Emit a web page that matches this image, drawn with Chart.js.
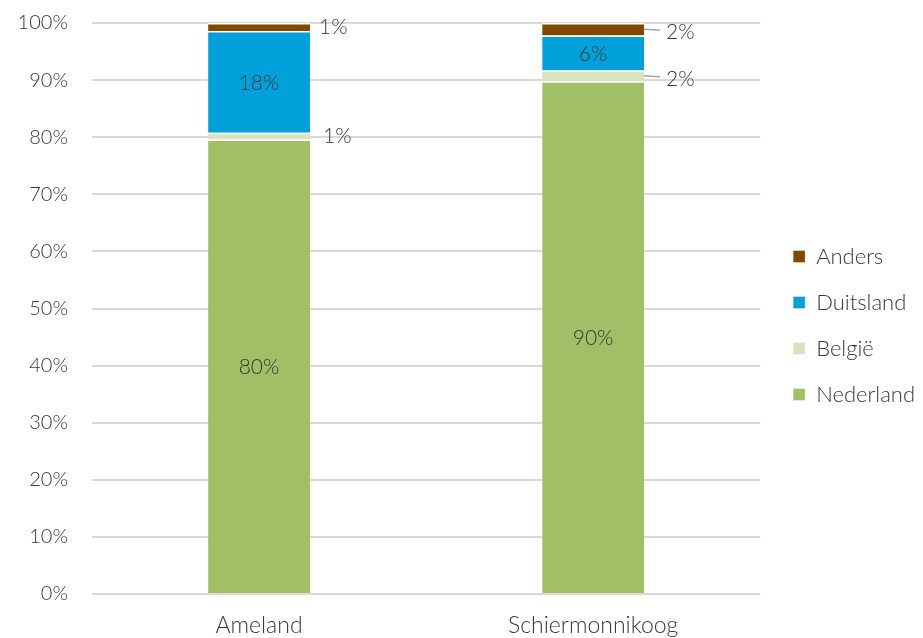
<!DOCTYPE html>
<html>
<head>
<meta charset="utf-8">
<script src="https://cdn.jsdelivr.net/npm/chart.js@4.4.1/dist/chart.umd.min.js"></script>
<style>
  html, body { margin: 0; padding: 0; background: #fff; }
  #wrap { width: 923px; height: 638px; position: relative; }
</style>
</head>
<body>
<div id="wrap"><canvas id="chart"></canvas></div>
<script>
// categories and series (percent of visitors)
const categories = ["Ameland", "Schiermonnikoog"];
const nederland = [79.6, 89.8];
const belgie = [1.2, 1.9];
const duitsland = [17.8, 6.1];
const anders = [1.4, 2.2];

const seriesNames = ["Nederland", "België", "Duitsland", "Anders"];
const seriesColors = ["#A0BF66", "#D8E4BE", "#00A1DB", "#7F4A00"];

const textColor = "#383838";
const fontFamily = "Lato, 'Open Sans', sans-serif";

// draws value labels: inside big segments, to the right of small ones
const valueLabels = {
    id: "valueLabels",
    afterLayout(chart) {
        // let the category labels use the bottom padding too (no clipping)
        chart.scales.x.bottom = chart.height;
    },
    afterDatasetsDraw(chart) {
        const ctx = chart.ctx;
        ctx.save();
        ctx.font = "300 21px " + fontFamily;
        ctx.fillStyle = textColor;
        ctx.textBaseline = "middle";
        chart.data.datasets.forEach((ds, di) => {
            const meta = chart.getDatasetMeta(di);
            meta.data.forEach((bar, i) => {
                const v = ds.data[i];
                const label = Math.round(v) + "%";
                const { x, y, base, width } = bar.getProps(["x", "y", "base", "width"], true);
                const cy = (y + base) / 2;
                if (v >= 5) {
                    ctx.textAlign = "center";
                    ctx.fillText(label, x, cy + 1);
                } else {
                    const right = x + width / 2;
                    ctx.textAlign = "left";
                    if (i === 1) {
                        // leader line for the second bar
                        ctx.strokeStyle = "#A6A6A6";
                        ctx.lineWidth = 1.5;
                        ctx.beginPath();
                        ctx.moveTo(right, cy);
                        ctx.lineTo(right + 16, cy + 1);
                        ctx.stroke();
                        ctx.fillText(label, right + 22, cy + 3);
                    } else {
                        ctx.fillText(label, right + 9 + (di === 1 ? 4 : 0), cy);
                    }
                }
            });
        });
        ctx.restore();
    }
};

const seriesData = [nederland, belgie, duitsland, anders];

new Chart(document.getElementById("chart"), {
    type: "bar",
    data: {
        labels: categories,
        datasets: seriesNames.map((name, k) => ({
            label: name,
            data: seriesData[k],
            backgroundColor: seriesColors[k],
            borderColor: "#ffffff",
            borderWidth: { top: 1.5, bottom: 0, left: 0, right: 0 },
            borderSkipped: false,
            categoryPercentage: 1,
            barPercentage: 0.305,
        })),
    },
    options: {
        responsive: true,
        maintainAspectRatio: false,
        animation: false,
        layout: { padding: { top: 23, right: 0, bottom: 10, left: 0 } },
        plugins: {
            legend: {
                position: "right",
                reverse: true,
                labels: {
                    boxWidth: 12,
                    boxHeight: 12,
                    padding: 24,
                    color: textColor,
                    font: { family: fontFamily, size: 22, weight: 300 },
                },
            },
            tooltip: { enabled: false },
        },
        scales: {
            x: {
                stacked: true,
                grid: { display: false },
                border: { display: false },
                ticks: {
                    color: textColor,
                    padding: 10,
                    font: { family: fontFamily, size: 23, weight: 300 },
                },
                afterFit(scale) { scale.height = 34; },
            },
            y: {
                stacked: true,
                min: 0,
                max: 100,
                ticks: {
                    stepSize: 10,
                    padding: 24,
                    color: textColor,
                    font: { family: fontFamily, size: 20, weight: 300 },
                    callback: (v) => v + "%",
                },
                grid: { color: "#D9D9D9", lineWidth: 2, drawTicks: false },
                border: { display: false },
                afterFit(scale) {
                    scale.width = 92;
                    scale.paddingTop = 0;
                    scale.paddingBottom = 0;
                },
            },
            // empty spacer between plot area and legend
            gap: {
                position: "right",
                display: true,
                grid: { display: false },
                ticks: { display: false },
                border: { display: false },
                afterFit(scale) { scale.width = 9; },
            },
        },
    },
    plugins: [valueLabels],
});
</script>
</body>
</html>
